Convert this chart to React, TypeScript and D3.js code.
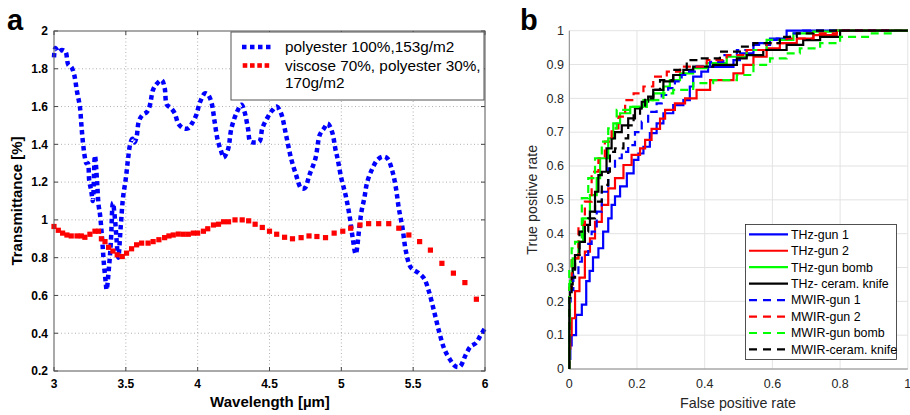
import React from "react";
import * as d3 from "d3";

// ---------- Panel a data ----------
const polyX = [3.0,3.01,3.03,3.055,3.08,3.1,3.12,3.14,3.16,3.18,3.19,3.2,3.215,3.225,3.235,3.245,3.26,3.27,3.285,3.3,3.31,3.32,3.335,3.347,3.36,3.366,3.384,3.396,3.41,3.425,3.435,3.447,3.465,3.48,3.5,3.515,3.53,3.545,3.56,3.575,3.59,3.615,3.645,3.665,3.69,3.715,3.75,3.77,3.785,3.81,3.84,3.865,3.9,3.935,3.96,3.99,4.015,4.05,4.07,4.095,4.118,4.14,4.165,4.18,4.21,4.235,4.27,4.305,4.325,4.35,4.366,4.39,4.43,4.45,4.49,4.52,4.55,4.58,4.615,4.65,4.685,4.72,4.745,4.778,4.82,4.85,4.88,4.905,4.935,4.96,4.975,5.0,5.03,5.056,5.08,5.1,5.125,5.14,5.16,5.18,5.217,5.25,5.287,5.32,5.356,5.38,5.4,5.426,5.45,5.484,5.54,5.576,5.61,5.646,5.68,5.715,5.75,5.796,5.826,5.866,5.9,5.935,5.97,6.0];
const polyY = [1.86,1.91,1.89,1.9,1.89,1.82,1.81,1.77,1.68,1.6,1.51,1.42,1.33,1.3,1.3,1.21,1.15,1.1,1.34,1.2,1.08,1.03,0.9,0.77,0.67,0.63,0.76,0.885,1.09,1.0,0.9,0.8,0.97,1.115,1.22,1.32,1.4,1.43,1.41,1.44,1.52,1.555,1.57,1.6,1.69,1.72,1.74,1.7,1.61,1.595,1.565,1.51,1.485,1.485,1.51,1.555,1.62,1.67,1.665,1.625,1.52,1.42,1.36,1.33,1.37,1.485,1.565,1.61,1.575,1.485,1.415,1.41,1.415,1.485,1.547,1.58,1.6,1.565,1.45,1.326,1.238,1.168,1.168,1.238,1.326,1.45,1.485,1.51,1.467,1.37,1.32,1.22,1.13,1.027,0.9,0.82,0.956,1.044,1.115,1.2,1.273,1.317,1.335,1.326,1.256,1.168,1.062,0.956,0.832,0.748,0.718,0.69,0.62,0.515,0.41,0.32,0.268,0.224,0.224,0.286,0.33,0.347,0.39,0.427];

const viscX = [3.0,3.03,3.06,3.09,3.12,3.16,3.19,3.215,3.25,3.285,3.31,3.33,3.355,3.38,3.41,3.44,3.475,3.505,3.54,3.575,3.61,3.655,3.69,3.73,3.77,3.8,3.83,3.865,3.9,3.935,3.97,4.0,4.04,4.07,4.11,4.145,4.18,4.215,4.26,4.31,4.355,4.4,4.45,4.5,4.55,4.605,4.66,4.72,4.775,4.83,4.89,4.95,5.01,5.065,5.13,5.19,5.26,5.33,5.4,5.47,5.545,5.62,5.7,5.78,5.86,5.94];
const viscY = [0.965,0.945,0.93,0.92,0.915,0.915,0.915,0.908,0.924,0.94,0.94,0.9,0.885,0.855,0.835,0.815,0.806,0.824,0.847,0.868,0.877,0.877,0.885,0.895,0.906,0.915,0.92,0.925,0.924,0.924,0.93,0.93,0.94,0.953,0.973,0.977,0.99,0.99,1.0,1.0,0.995,0.977,0.96,0.94,0.924,0.908,0.9,0.906,0.915,0.912,0.906,0.93,0.94,0.956,0.973,0.98,0.98,0.98,0.956,0.92,0.885,0.84,0.77,0.718,0.668,0.58];

const aXTicks = [3, 3.5, 4, 4.5, 5, 5.5, 6];
const aYTicks = [0.2, 0.4, 0.6, 0.8, 1, 1.2, 1.4, 1.6, 1.8, 2];
const aLegend = ["polyester 100%,153g/m2", "viscose 70%, polyester 30%,", "170g/m2"];

// ---------- Panel b data ----------
const thzGun1F = [0,0.003,0.007,0.02,0.037,0.05,0.06,0.07,0.086,0.1,0.115,0.125,0.135,0.15,0.17,0.19,0.204,0.219,0.238,0.258,0.278,0.307,0.337,0.356,0.366,0.39,0.41,0.485,0.504,0.544,0.593,0.642,0.7,1];
const thzGun1T = [0,0.03,0.07,0.1,0.16,0.19,0.26,0.29,0.33,0.357,0.406,0.445,0.485,0.51,0.54,0.578,0.618,0.637,0.657,0.697,0.726,0.756,0.78,0.795,0.835,0.864,0.879,0.893,0.913,0.933,0.963,0.977,1,1];
const thzGun2F = [0,0.003,0.007,0.017,0.03,0.046,0.061,0.076,0.096,0.115,0.135,0.16,0.184,0.209,0.224,0.243,0.268,0.283,0.312,0.342,0.376,0.416,0.485,0.514,0.544,0.583,0.622,0.672,0.721,0.79,0.849,1];
const thzGun2T = [0,0.06,0.1,0.15,0.23,0.27,0.347,0.386,0.435,0.485,0.534,0.564,0.603,0.633,0.652,0.677,0.71,0.74,0.766,0.785,0.8,0.825,0.854,0.874,0.899,0.923,0.948,0.963,0.977,0.987,1,1];
const thzBombF = [0,0.002,0.01,0.027,0.041,0.061,0.081,0.091,0.115,0.13,0.15,0.18,0.219,0.248,0.278,0.297,0.327,0.366,0.406,0.465,0.524,0.583,0.662,0.721,0.78,0.8,1];
const thzBombT = [0,0.13,0.26,0.327,0.376,0.445,0.514,0.564,0.623,0.682,0.726,0.756,0.775,0.795,0.815,0.835,0.854,0.874,0.889,0.904,0.923,0.943,0.973,0.992,0.997,1,1];
const thzKnifeF = [0,0,0.002,0.01,0.017,0.03,0.046,0.061,0.076,0.086,0.096,0.11,0.125,0.135,0.155,0.174,0.194,0.214,0.233,0.248,0.278,0.307,0.337,0.366,0.425,0.495,0.524,0.573,0.642,0.691,0.741,0.8,0.85,1];
const thzKnifeT = [0,0.18,0.21,0.25,0.298,0.337,0.376,0.426,0.465,0.524,0.573,0.583,0.652,0.682,0.7,0.72,0.741,0.77,0.79,0.805,0.825,0.85,0.869,0.884,0.894,0.899,0.918,0.928,0.943,0.958,0.972,0.982,1,1];
const mwGun1F = [0,0,0.004,0.012,0.027,0.037,0.056,0.066,0.081,0.096,0.115,0.135,0.155,0.174,0.194,0.214,0.233,0.258,0.273,0.292,0.312,0.332,0.347,0.376,0.416,0.455,0.495,0.544,0.593,0.613,0.652,0.691,0.73,1];
const mwGun1T = [0,0.12,0.2,0.233,0.278,0.317,0.337,0.37,0.406,0.465,0.524,0.593,0.623,0.642,0.662,0.7,0.731,0.76,0.785,0.81,0.83,0.85,0.869,0.879,0.894,0.908,0.928,0.943,0.958,0.973,0.977,0.992,1,1];
const mwGun2F = [0,0,0.007,0.027,0.046,0.066,0.086,0.105,0.125,0.145,0.165,0.19,0.219,0.248,0.288,0.327,0.406,0.465,0.524,0.583,0.642,0.721,0.79,0.86,1];
const mwGun2T = [0,0.16,0.24,0.327,0.426,0.495,0.583,0.623,0.672,0.711,0.746,0.795,0.815,0.835,0.864,0.879,0.894,0.913,0.928,0.943,0.963,0.977,0.992,1,1];
const mwBombF = [0,0,0.007,0.017,0.037,0.056,0.076,0.096,0.115,0.14,0.18,0.229,0.278,0.307,0.366,0.425,0.495,0.544,0.593,0.642,0.681,0.741,0.8,0.888,0.957,1];
const mwBombT = [0,0.258,0.298,0.357,0.376,0.505,0.564,0.623,0.672,0.711,0.766,0.775,0.795,0.815,0.825,0.845,0.854,0.869,0.899,0.918,0.933,0.948,0.963,0.982,0.992,1];
const mwKnifeF = [0,0,0.007,0.017,0.03,0.056,0.076,0.096,0.115,0.12,0.135,0.16,0.174,0.19,0.209,0.224,0.248,0.268,0.307,0.347,0.386,0.445,0.504,0.544,0.622,0.672,0.721,0.79,1];
const mwKnifeT = [0,0.16,0.21,0.27,0.337,0.406,0.445,0.495,0.544,0.583,0.642,0.652,0.682,0.72,0.75,0.77,0.8,0.825,0.854,0.884,0.913,0.918,0.938,0.953,0.963,0.982,0.992,1,1];

const rocNames = ["THz-gun 1","THz-gun 2","THz-gun bomb","THz- ceram. knife","MWIR-gun 1","MWIR-gun 2","MWIR-gun bomb","MWIR-ceram. knife"];
const rocColors = ["#0000ff","#ff0000","#00ff00","#000000","#0000ff","#ff0000","#00ff00","#000000"];
const rocDashed = [false,false,false,false,true,true,true,true];
const rocF = [thzGun1F,thzGun2F,thzBombF,thzKnifeF,mwGun1F,mwGun2F,mwBombF,mwKnifeF];
const rocT = [thzGun1T,thzGun2T,thzBombT,thzKnifeT,mwGun1T,mwGun2T,mwBombT,mwKnifeT];
const bXTicks = [0, 0.2, 0.4, 0.6, 0.8, 1];
const bYTicks = [0, 0.1, 0.2, 0.3, 0.4, 0.5, 0.6, 0.7, 0.8, 0.9, 1];

const FONT = "'Liberation Sans', Arial, Helvetica, sans-serif";

export default function App() {
  const ax = d3.scaleLinear().domain([3, 6]).range([54, 485]);
  const ay = d3.scaleLinear().domain([0.2, 2]).range([371, 31]);
  const polyPts = polyX.map((x, i) => [x, polyY[i]] as [number, number]);
  const polyPath = d3.line<[number, number]>().x(d => ax(d[0])).y(d => ay(d[1])).curve(d3.curveCatmullRom.alpha(0.5))(polyPts) || "";

  const bx = d3.scaleLinear().domain([0, 1]).range([569.3, 907.8]);
  const by = d3.scaleLinear().domain([0, 1]).range([369, 30.7]);
  const rocLine = d3.line<[number, number]>().x(d => bx(d[0])).y(d => by(d[1])).curve(d3.curveStepBefore);

  return (
    <svg width={910} height={415} style={{ position: "absolute", left: 0, top: 0, background: "#fff" }} fontFamily={FONT}>
      <rect x={0} y={0} width={910} height={415} fill="#fff" />
      {/* ===== Panel a ===== */}
      <text x={7} y={30} fontSize={29} fontWeight="bold">a</text>
      {aXTicks.slice(1, -1).map(t => (
        <line key={"agx" + t} x1={ax(t)} x2={ax(t)} y1={ay(2)} y2={ay(0.2)} stroke="#b0b0b0" strokeWidth={1} strokeDasharray="1,2.5" />
      ))}
      {aYTicks.slice(1, -1).map(t => (
        <line key={"agy" + t} x1={ax(3)} x2={ax(6)} y1={ay(t)} y2={ay(t)} stroke="#b0b0b0" strokeWidth={1} strokeDasharray="1,2.5" />
      ))}
      {aXTicks.map(t => (
        <g key={"axt" + t}>
          <line x1={ax(t)} x2={ax(t)} y1={ay(0.2)} y2={ay(0.2) - 4} stroke="#444" />
          <line x1={ax(t)} x2={ax(t)} y1={ay(2)} y2={ay(2) + 4} stroke="#444" />
          <text x={ax(t)} y={388} fontSize={12} fontWeight="bold" textAnchor="middle">{String(t)}</text>
        </g>
      ))}
      {aYTicks.map(t => (
        <g key={"ayt" + t}>
          <line x1={ax(3)} x2={ax(3) + 4} y1={ay(t)} y2={ay(t)} stroke="#444" />
          <line x1={ax(6)} x2={ax(6) - 4} y1={ay(t)} y2={ay(t)} stroke="#444" />
          <text x={48} y={ay(t) + 4.3} fontSize={12} fontWeight="bold" textAnchor="end">{String(+t.toFixed(1))}</text>
        </g>
      ))}
      <path d={polyPath} fill="none" stroke="#0000ff" strokeWidth={4.5} strokeDasharray="4.5,3.5" />
      {viscX.map((x, i) => (
        <rect key={"vm" + i} x={ax(x) - 2.6} y={ay(viscY[i]) - 2.6} width={5.2} height={5.2} fill="#ff0000" />
      ))}
      <rect x={ax(3)} y={ay(2)} width={ax(6) - ax(3)} height={ay(0.2) - ay(2)} fill="none" stroke="#555" strokeWidth={1} />
      <rect x={231} y={32} width={253} height={68} fill="#fff" stroke="#555" strokeWidth={1} />
      <line x1={242} x2={272} y1={47} y2={47} stroke="#0000ff" strokeWidth={4.5} strokeDasharray="4.5,3.5" />
      {[0, 1, 2, 3].map(k => (
        <rect key={"lr" + k} x={245 + k * 7.3 - 2.3} y={65.5 - 2.3} width={4.6} height={4.6} fill="#ff0000" />
      ))}
      <text x={285} y={52} fontSize={15.3}>{aLegend[0]}</text>
      <text x={285} y={71} fontSize={15.3}>{aLegend[1]}</text>
      <text x={285} y={88} fontSize={15.3}>{aLegend[2]}</text>
      <text x={270} y={407} fontSize={15} fontWeight="bold" textAnchor="middle">Wavelength [µm]</text>
      <text transform={`translate(22,${ay(1.1)}) rotate(-90)`} fontSize={15} fontWeight="bold" textAnchor="middle">Transmittance [%]</text>

      {/* ===== Panel b ===== */}
      <text x={520} y={30} fontSize={29} fontWeight="bold">b</text>
      {bXTicks.map(t => (
        <line key={"bgx" + t} x1={bx(t)} x2={bx(t)} y1={by(0)} y2={by(1)} stroke="#e3e3e3" strokeWidth={1} />
      ))}
      {bYTicks.map(t => (
        <line key={"bgy" + t} x1={bx(0)} x2={bx(1)} y1={by(t)} y2={by(t)} stroke="#e3e3e3" strokeWidth={1} />
      ))}
      <line x1={bx(0)} x2={bx(0)} y1={by(0)} y2={by(1)} stroke="#8a8a8a" strokeWidth={1} />
      <line x1={bx(0)} x2={bx(1)} y1={by(0)} y2={by(0)} stroke="#8a8a8a" strokeWidth={1} />
      {bXTicks.map(t => (
        <text key={"bxt" + t} x={bx(t)} y={388} fontSize={12.5} fill="#262626" textAnchor="middle">{String(t)}</text>
      ))}
      {bYTicks.map(t => (
        <text key={"byt" + t} x={564} y={by(t) + 4.3} fontSize={12.5} fill="#262626" textAnchor="end">{String(t)}</text>
      ))}
      {rocF.map((f, i) => {
        const pts = f.map((v, j) => [v, rocT[i][j]] as [number, number]);
        return (
          <path key={"roc" + i} d={rocLine(pts) || ""} fill="none" stroke={rocColors[i]} strokeWidth={2.2}
            strokeDasharray={rocDashed[i] ? "8,5" : undefined} />
        );
      })}
      <text x={738} y={408} fontSize={14.3} fill="#262626" textAnchor="middle">False positive rate</text>
      <text transform={`translate(537,${by(0.5)}) rotate(-90)`} fontSize={14.3} fill="#262626" textAnchor="middle">True positive rate</text>
      <rect x={745.5} y={224.5} width={151} height={135} fill="#fff" stroke="#262626" strokeWidth={0.8} />
      {rocNames.map((n, i) => {
        const yy = 234.3 + i * 16.45;
        return (
          <g key={"bl" + i}>
            <line x1={749} x2={788} y1={yy} y2={yy} stroke={rocColors[i]} strokeWidth={2.2}
              strokeDasharray={rocDashed[i] ? "8,6" : undefined} />
            <text x={791} y={yy + 4.3} fontSize={12.4} fill="#000">{n}</text>
          </g>
        );
      })}
    </svg>
  );
}
